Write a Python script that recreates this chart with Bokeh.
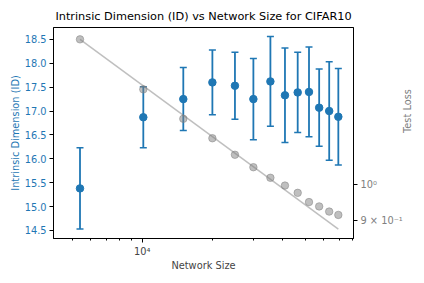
import math
from bokeh.plotting import figure
from bokeh.models import Range1d, LogAxis, LogScale, FixedTicker, NumeralTickFormatter
from bokeh.embed import file_html
from bokeh.resources import INLINE

# ---- data ----
network_size = [5400, 10100, 15000, 20000, 25000, 30000, 35500, 41000,
                46500, 52000, 57500, 63500, 69500]
id_mean = [15.38, 16.87, 17.25, 17.60, 17.53, 17.25, 17.62, 17.33,
           17.39, 17.40, 17.07, 17.00, 16.88]
id_err = [0.85, 0.64, 0.66, 0.68, 0.70, 0.85, 0.94, 0.99,
          0.84, 0.94, 0.81, 1.03, 1.01]
test_loss = [1.529, 1.321, 1.212, 1.145, 1.091, 1.052, 1.020, 0.997,
             0.976, 0.950, 0.938, 0.924, 0.915]
fit_size = [5400, 69500]
fit_loss = [1.529, 0.878]

id_ticks = [14.5, 15.0, 15.5, 16.0, 16.5, 17.0, 17.5, 18.0, 18.5]
x_major = [10000]
x_minor = [5000, 6000, 7000, 8000, 9000, 20000, 30000, 40000, 50000, 60000, 70000, 80000]
loss_ticks = [0.9, 1.0]
loss_labels = {0.9: "9 × 10⁻¹", 1.0: "10⁰"}

BLUE = "#1f77b4"
GRAY = "#808080"
FONT = "DejaVu Sans"

p = figure(frame_width=300, frame_height=211, x_axis_type="log",
           x_range=Range1d(4155, 80750), y_range=Range1d(14.33, 18.75),
           output_backend="svg", toolbar_location=None,
           min_border_left=53, min_border_right=10,
           min_border_top=27, min_border_bottom=10)
p.extra_y_ranges = {"loss": Range1d(0.854, 1.583)}
p.extra_y_scales = {"loss": LogScale()}

p.title.text = "Intrinsic Dimension (ID) vs Network Size for CIFAR10"
p.title.align = "center"
p.title.text_font = FONT
p.title.text_font_size = "11.3px"
p.title.text_font_style = "normal"
p.title.text_color = "black"

p.xgrid.visible = False
p.ygrid.visible = False
p.outline_line_color = "black"
p.outline_line_alpha = 1.0
p.background_fill_color = "white"
p.border_fill_color = "white"

# x axis
xa = p.xaxis[0]
xa.ticker = FixedTicker(ticks=x_major, minor_ticks=x_minor)
xa.major_label_overrides = {10000: "10⁴"}
xa.axis_label = "Network Size"

# left axis
ya = p.yaxis[0]
ya.ticker = FixedTicker(ticks=id_ticks)
ya.formatter = NumeralTickFormatter(format="0.0")
ya.axis_label = "Intrinsic Dimension (ID)"
ya.major_label_text_color = BLUE
ya.axis_label_text_color = BLUE

# right axis
ra = LogAxis(y_range_name="loss", ticker=FixedTicker(ticks=loss_ticks),
             major_label_overrides=loss_labels, axis_label="Test Loss")
ra.major_label_text_color = GRAY
ra.axis_label_text_color = GRAY
if hasattr(ra, "axis_label_orientation"):
    ra.axis_label_orientation = math.pi / 2
p.add_layout(ra, "right")

for ax in [xa, ya, ra]:
    ax.major_label_text_font = FONT
    ax.major_label_text_font_size = "9.8px"
    ax.axis_label_text_font = FONT
    ax.axis_label_text_font_size = "9.8px"
    ax.axis_label_text_font_style = "normal"
    ax.axis_line_color = "black"
    ax.major_tick_line_color = "black"
    ax.minor_tick_line_color = "black"
    ax.major_tick_in = 0
    ax.major_tick_out = 4
    ax.minor_tick_in = 0
    ax.minor_tick_out = 2
    ax.major_label_standoff = 3
    ax.axis_label_standoff = 4
ya.minor_tick_line_color = None
ra.minor_tick_line_color = None
ya.axis_label_standoff = 1
xa.axis_label_standoff = 0
ra.axis_label_standoff = 2

# error bars
lower = [m - e for m, e in zip(id_mean, id_err)]
upper = [m + e for m, e in zip(id_mean, id_err)]
p.segment(x0=network_size, y0=lower, x1=network_size, y1=upper,
          line_color=BLUE, line_width=1.8)
p.scatter(network_size, lower, marker="dash", size=7, line_color=BLUE, line_width=1.5)
p.scatter(network_size, upper, marker="dash", size=7, line_color=BLUE, line_width=1.5)
p.scatter(network_size, id_mean, size=7.5, fill_color=BLUE, line_color=BLUE)

# test loss
p.line(fit_size, fit_loss, y_range_name="loss", line_color=GRAY,
       line_alpha=0.5, line_width=1.5)
p.scatter(network_size, test_loss, y_range_name="loss", size=7.5,
          fill_color=GRAY, line_color=GRAY, fill_alpha=0.5, line_alpha=0.5)

open("out.html", "w").write(file_html(p, INLINE))
